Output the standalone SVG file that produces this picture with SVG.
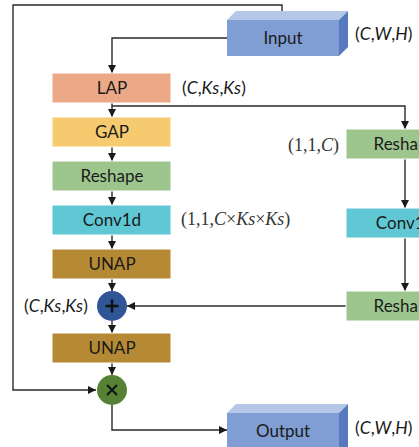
<svg xmlns="http://www.w3.org/2000/svg" width="419" height="447" viewBox="0 0 419 447">
  <defs>
    <marker id="arrow" viewBox="0 0 8 8" refX="8" refY="4" markerWidth="8" markerHeight="8" markerUnits="userSpaceOnUse" orient="auto">
      <path d="M0,0 L8,4 L0,8 Z" fill="#1a1a1a"/>
    </marker>
    <style>
      .lbl { font-family: Lato, "Open Sans", sans-serif; font-size: 17px; fill: #1a1a1a; text-anchor: middle; }
      .dim { font-family: Lato, "Open Sans", sans-serif; font-size: 17.5px; fill: #1a1a1a; }
      .math { font-family: "Liberation Serif", "Times New Roman", serif; font-size: 18px; fill: #333; }
      .wire { fill: none; stroke: #2a2a2a; stroke-width: 1.4; }
      .edge { stroke: #ffffff; stroke-width: 1; }
    </style>
  </defs>
  <rect width="419" height="447" fill="#ffffff"/>

  <!-- connectors -->
  <g id="connectors">
    <!-- residual path from Input to the multiply node -->
    <polyline class="wire" points="282,20 282,5 13,5 13,390 96,390" marker-end="url(#arrow)"/>
    <!-- Input to LAP -->
    <polyline class="wire" points="227,38 112,38 112,73" marker-end="url(#arrow)"/>
    <!-- LAP to GAP -->
    <line class="wire" x1="112" y1="103" x2="112" y2="117" marker-end="url(#arrow)"/>
    <!-- LAP to right branch -->
    <polyline class="wire" points="112,106 405,106 405,129" marker-end="url(#arrow)"/>
    <line class="wire" x1="112" y1="147" x2="112" y2="161" marker-end="url(#arrow)"/>
    <line class="wire" x1="112" y1="191" x2="112" y2="205" marker-end="url(#arrow)"/>
    <line class="wire" x1="112" y1="235" x2="112" y2="249" marker-end="url(#arrow)"/>
    <line class="wire" x1="112" y1="279" x2="112" y2="291" marker-end="url(#arrow)"/>
    <line class="wire" x1="112" y1="321" x2="112" y2="333" marker-end="url(#arrow)"/>
    <line class="wire" x1="112" y1="363" x2="112" y2="375" marker-end="url(#arrow)"/>
    <!-- right branch -->
    <line class="wire" x1="405" y1="159" x2="405" y2="208" marker-end="url(#arrow)"/>
    <line class="wire" x1="405" y1="238" x2="405" y2="291" marker-end="url(#arrow)"/>
    <line class="wire" x1="346" y1="306" x2="127" y2="306" marker-end="url(#arrow)"/>
    <!-- multiply node to Output -->
    <polyline class="wire" points="112,405 112,430 227,430" marker-end="url(#arrow)"/>
  </g>

  <!-- Input block -->
  <g id="input">
    <polygon points="227,20 236,11 348,11 339,20" fill="#b4c7e7"/>
    <polygon points="339,20 348,11 348,47 339,56" fill="#5679c0"/>
    <rect x="227" y="20" width="112" height="36" fill="#809ed3"/>
    <text class="lbl" x="283" y="44">Input</text>
  </g>
  <text class="dim" x="355" y="40"><tspan>(</tspan><tspan font-style="italic">C</tspan><tspan>,</tspan><tspan font-style="italic">W</tspan><tspan>,</tspan><tspan font-style="italic">H</tspan><tspan>)</tspan></text>

  <g id="lap">
    <rect x="52" y="73" width="119" height="30" fill="#eba987" class="edge"/>
    <text class="lbl" x="112" y="94">LAP</text>
  </g>
  <text class="dim" x="182" y="94"><tspan>(</tspan><tspan font-style="italic">C</tspan><tspan>,</tspan><tspan font-style="italic">Ks</tspan><tspan>,</tspan><tspan font-style="italic">Ks</tspan><tspan>)</tspan></text>

  <g id="gap">
    <rect x="52" y="117" width="119" height="30" fill="#f6cb70" class="edge"/>
    <text class="lbl" x="112" y="138">GAP</text>
  </g>

  <g id="reshape">
    <rect x="52" y="161" width="119" height="30" fill="#9dc68f" class="edge"/>
    <text class="lbl" x="112" y="182">Reshape</text>
  </g>

  <g id="conv1d">
    <rect x="52" y="205" width="119" height="30" fill="#60c8d5" class="edge"/>
    <text class="lbl" x="112" y="226">Conv1d</text>
  </g>
  <text class="math" x="181" y="225">(1,1,<tspan font-style="italic">C</tspan>×<tspan font-style="italic">Ks</tspan>×<tspan font-style="italic">Ks</tspan>)</text>

  <g id="unap1">
    <rect x="52" y="249" width="119" height="30" fill="#b68a35" class="edge"/>
    <text class="lbl" x="112" y="270">UNAP</text>
  </g>

  <g id="add">
    <circle cx="112" cy="306" r="15" fill="#2f5696"/>
    <path d="M105.5,306 H118.5 M112,299.5 V312.5" stroke="#111" stroke-width="2.4"/>
  </g>
  <text class="dim" x="24" y="312"><tspan>(</tspan><tspan font-style="italic">C</tspan><tspan>,</tspan><tspan font-style="italic">Ks</tspan><tspan>,</tspan><tspan font-style="italic">Ks</tspan><tspan>)</tspan></text>

  <g id="unap2">
    <rect x="52" y="333" width="119" height="30" fill="#b68a35" class="edge"/>
    <text class="lbl" x="112" y="354">UNAP</text>
  </g>

  <g id="multiply">
    <circle cx="112" cy="390" r="15" fill="#578236"/>
    <path d="M107,385 L117,395 M117,385 L107,395" stroke="#111" stroke-width="2"/>
  </g>

  <!-- Output block -->
  <g id="output">
    <polygon points="227,413 236,404 348,404 339,413" fill="#b4c7e7"/>
    <polygon points="339,413 348,404 348,447 339,447" fill="#5679c0"/>
    <rect x="227" y="413" width="112" height="40" fill="#809ed3"/>
    <text class="lbl" x="283" y="437">Output</text>
  </g>
  <text class="dim" x="355" y="434"><tspan>(</tspan><tspan font-style="italic">C</tspan><tspan>,</tspan><tspan font-style="italic">W</tspan><tspan>,</tspan><tspan font-style="italic">H</tspan><tspan>)</tspan></text>

  <!-- right branch (runs past the right edge of the canvas) -->
  <g id="reshape-r1">
    <rect x="346" y="129" width="119" height="30" fill="#9dc68f" class="edge"/>
    <text class="lbl" x="405" y="150">Reshape</text>
  </g>
  <text class="math" x="288" y="151">(1,1,<tspan font-style="italic">C</tspan>)</text>

  <g id="conv1d-r">
    <rect x="346" y="208" width="119" height="30" fill="#60c8d5" class="edge"/>
    <text class="lbl" x="405" y="229">Conv1d</text>
  </g>

  <g id="reshape-r2">
    <rect x="346" y="291" width="119" height="30" fill="#9dc68f" class="edge"/>
    <text class="lbl" x="405" y="312">Reshape</text>
  </g>
</svg>
